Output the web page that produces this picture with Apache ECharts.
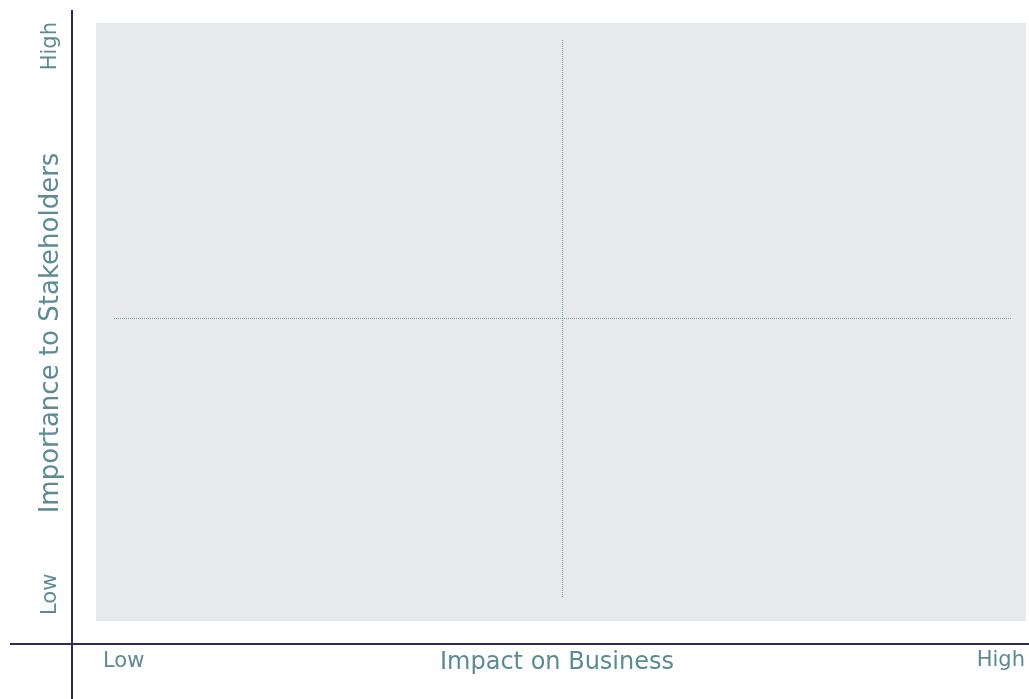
<!DOCTYPE html>
<html>
<head>
<meta charset="utf-8">
<script src="https://cdn.jsdelivr.net/npm/echarts@6/dist/echarts.min.js"></script>
<style>
html,body{margin:0;padding:0;background:#fff;}
#chart{width:1029px;height:699px;}
</style>
</head>
<body>
<div id="chart"></div>
<script>
// Data
var xAxisTitle = 'Impact on Business';
var yAxisTitle = 'Importance to Stakeholders';
var xTickLabels = ['Low', 'High'];
var yTickLabels = ['Low', 'High'];
var axisRange = [0, 100];
var quadrantSplitX = [50];
var quadrantSplitY = [50];
var points = [];

var textColor = '#5b8b95';
var axisColor = '#2e2a5f';
var dotColor = '#7c9fa6';
var fontFamily = '"DejaVu Sans", sans-serif';

var chart = echarts.init(document.getElementById('chart'), null, {renderer: 'canvas'});

var markLineData = [];
quadrantSplitX.forEach(function (v) { markLineData.push({xAxis: v}); });
quadrantSplitY.forEach(function (v) { markLineData.push({yAxis: v}); });

var option = {
  backgroundColor: '#ffffff',
  animation: false,
  grid: [
    {left: 96, right: 3, top: 23, bottom: 78, show: true, backgroundColor: '#e8e9eb', borderWidth: 0},
    {left: 114, right: 18, top: 40, bottom: 102}
  ],
  xAxis: [
    {gridIndex: 0, type: 'value', min: axisRange[0], max: axisRange[1], show: false},
    {gridIndex: 1, type: 'value', min: axisRange[0], max: axisRange[1], show: false}
  ],
  yAxis: [
    {gridIndex: 0, type: 'value', min: axisRange[0], max: axisRange[1], show: false},
    {gridIndex: 1, type: 'value', min: axisRange[0], max: axisRange[1], show: false}
  ],
  series: [{
    type: 'scatter',
    xAxisIndex: 1,
    yAxisIndex: 1,
    data: points,
    markLine: {
      silent: true,
      symbol: ['none', 'none'],
      label: {show: false},
      lineStyle: {color: dotColor, type: 'dotted', width: 1},
      data: markLineData
    }
  }],
  graphic: [
    {type: 'line', shape: {x1: 72, y1: 10, x2: 72, y2: 699}, style: {stroke: axisColor, lineWidth: 2}},
    {type: 'line', shape: {x1: 10, y1: 644, x2: 1029, y2: 644}, style: {stroke: axisColor, lineWidth: 2}},
    {type: 'text', x: 557, y: 663, style: {text: xAxisTitle, fill: textColor, font: '24px ' + fontFamily, textAlign: 'center', textVerticalAlign: 'middle'}},
    {type: 'text', x: 103, y: 662, style: {text: xTickLabels[0], fill: textColor, font: '21px ' + fontFamily, textAlign: 'left', textVerticalAlign: 'middle'}},
    {type: 'text', x: 1025, y: 661, style: {text: xTickLabels[1], fill: textColor, font: '21px ' + fontFamily, textAlign: 'right', textVerticalAlign: 'middle'}},
    {type: 'text', x: 51, y: 333, rotation: Math.PI / 2, style: {text: yAxisTitle, fill: textColor, font: '26px ' + fontFamily, textAlign: 'center', textVerticalAlign: 'middle'}},
    {type: 'text', x: 51, y: 615, rotation: Math.PI / 2, style: {text: yTickLabels[0], fill: textColor, font: '21px ' + fontFamily, textAlign: 'left', textVerticalAlign: 'middle'}},
    {type: 'text', x: 51, y: 22, rotation: Math.PI / 2, style: {text: yTickLabels[1], fill: textColor, font: '21px ' + fontFamily, textAlign: 'right', textVerticalAlign: 'middle'}}
  ]
};
chart.setOption(option);
</script>
</body>
</html>
